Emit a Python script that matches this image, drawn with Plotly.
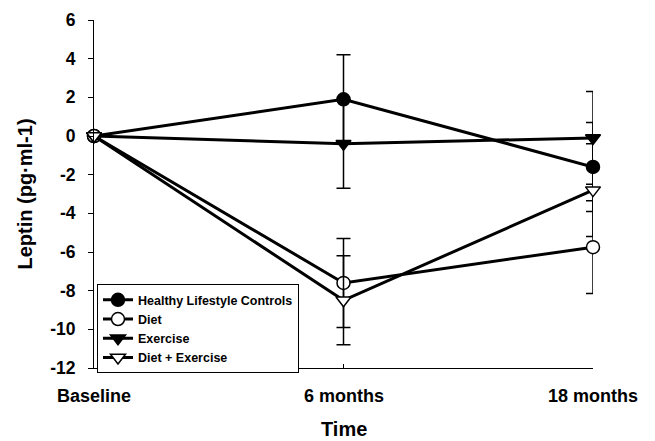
import plotly.graph_objects as go

time_labels = ["Baseline", "6 months", "18 months"]
x_pos = [0, 1, 2]

series_names = ["Healthy Lifestyle Controls", "Diet", "Exercise", "Diet + Exercise"]
controls = [0.0, 1.9, -1.6]
diet = [0.0, -7.6, -5.75]
exercise = [0.0, -0.4, -0.1]
diet_exercise = [0.0, -8.5, -2.8]

controls_err = [0.0, 2.3, 2.3]
diet_err = [0.0, 2.3, 2.4]
exercise_err = [0.0, 2.3, 2.4]
diet_exercise_err = [0.0, 2.3, 2.4]

y_ticks = [6, 4, 2, 0, -2, -4, -6, -8, -10, -12]
y_tick_text = ["6", "4", "2", "0", "-2", "-4", "-6", "-8", "-10", "-12"]

styles = [
    dict(symbol="circle", color="black"),
    dict(symbol="circle", color="white"),
    dict(symbol="triangle-down", color="black"),
    dict(symbol="triangle-down", color="white"),
]
values = [controls, diet, exercise, diet_exercise]
errors = [controls_err, diet_err, exercise_err, diet_exercise_err]

font_family = "Liberation Sans, Arial, sans-serif"

fig = go.Figure()
for name, vals, errs, st in zip(series_names, values, errors, styles):
    fig.add_trace(go.Scatter(
        x=x_pos, y=vals, name=name, mode="lines+markers",
        line=dict(color="black", width=3),
        marker=dict(symbol=st["symbol"], size=13, color=st["color"],
                    line=dict(color="black", width=1.5)),
        error_y=dict(type="data", array=errs, visible=True,
                     color="black", thickness=1.5, width=7),
        cliponaxis=False,
    ))

# x category labels as annotations below the axis
for xv, lab in zip(x_pos, time_labels):
    fig.add_annotation(
        x=xv, y=0, xref="x", yref="paper", yanchor="middle", xanchor="center",
        yshift=-28, showarrow=False,
        text="<b>" + lab + "</b>", font=dict(size=18, family=font_family, color="black"),
    )

fig.add_annotation(
    x=0.5, y=0, xref="paper", yref="paper", yanchor="middle", xanchor="center",
    yshift=-61, showarrow=False, text="<b>Time</b>",
    font=dict(size=20, family=font_family, color="black"),
)

# The page body has an 8px default margin, so the figure is sized/margined to compensate
fig.update_layout(
    width=647, height=433,
    margin=dict(l=86, r=62, t=12, b=73),
    paper_bgcolor="white", plot_bgcolor="white",
    font=dict(family=font_family, color="black"),
    showlegend=True,
    legend=dict(
        x=0.006, y=0.241, xanchor="left", yanchor="top",
        bgcolor="white", bordercolor="black", borderwidth=1,
        font=dict(size=12.5, family=font_family, weight="bold"),
        itemwidth=30, tracegroupgap=0,
    ),
    xaxis=dict(
        range=[0, 2], tickvals=x_pos, showticklabels=False,
        showline=True, linecolor="black", linewidth=1,
        ticks="inside", ticklen=4, tickcolor="black",
        showgrid=False, zeroline=False, automargin=False,
    ),
    yaxis=dict(
        range=[-12, 6], tickvals=y_ticks,
        ticktext=["<b>" + t + "</b>" for t in y_tick_text],
        showline=True, linecolor="black", linewidth=1,
        ticks="outside", ticklen=5, tickcolor="black",
        showgrid=False, zeroline=False, automargin=False,
        ticklabelstandoff=9,
        tickfont=dict(size=17.5, family=font_family),
        title=dict(text="<b>Leptin (pg·ml-1)</b>", font=dict(size=20, family=font_family), standoff=12),
    ),
)

fig.write_html("out.html")
